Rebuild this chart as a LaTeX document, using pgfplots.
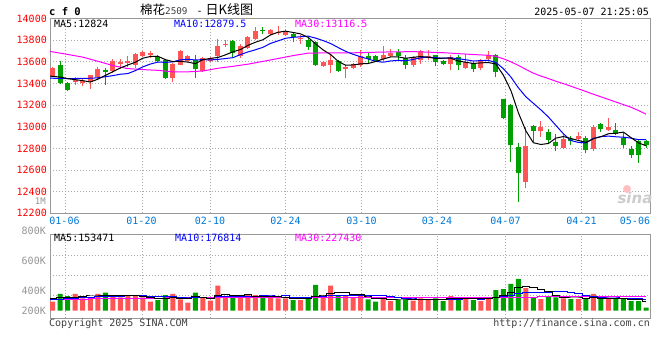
\documentclass[border=0pt]{standalone}
\usepackage{pgfplots}
\usepackage{pgfplotstable}
\pgfplotsset{compat=1.18}
\usepackage{fontspec}
\setmainfont{DejaVu Sans}
\newfontfamily\mono{DejaVu Sans Mono}
\newfontfamily\cjk{Noto Sans CJK SC}
\definecolor{cred}{RGB}{255,85,85}
\definecolor{cgreen}{RGB}{0,160,0}
\definecolor{framec}{RGB}{153,153,153}
\definecolor{gridc}{RGB}{170,170,170}
\definecolor{datec}{RGB}{0,120,215}
\definecolor{mag}{RGB}{255,0,255}
\definecolor{bl}{RGB}{0,0,255}
\definecolor{tgray}{RGB}{150,150,150}
\newcommand{\mf}{\mono\fontsize{10bp}{12bp}\selectfont}

\pgfplotstableread{
i o h l c
0 13468 13551 13459 13542
3 13413 13459 13382 13428
4 13407 13450 13373 13422
5 13413 13481 13352 13475
6 13459 13551 13444 13536
8 13511 13622 13499 13604
9 13576 13628 13536 13597
10 13588 13650 13551 13607
11 13567 13683 13542 13668
12 13653 13699 13643 13690
13 13665 13696 13634 13683
16 13450 13591 13413 13582
17 13573 13705 13567 13696
18 13604 13660 13597 13650
20 13511 13640 13505 13637
21 13604 13643 13597 13637
22 13650 13812 13597 13742
23 13751 13797 13736 13766
25 13653 13766 13634 13742
26 13727 13840 13720 13828
27 13813 13920 13800 13889
29 13859 13905 13850 13896
30 13862 13935 13843 13872
31 13843 13890 13838 13880
33 13806 13850 13766 13819
36 13561 13604 13555 13598
37 13567 13665 13499 13613
39 13530 13567 13450 13551
40 13542 13591 13536 13582
41 13567 13711 13551 13650
44 13622 13742 13610 13659
45 13653 13720 13643 13683
48 13567 13650 13555 13644
49 13613 13705 13576 13696
50 13637 13705 13613 13650
53 13576 13665 13521 13644
55 13542 13674 13536 13597
57 13542 13628 13521 13604
58 13622 13696 13610 13659
63 12491 13000 12436 12820
65 12958 13050 12906 12998
68 12805 12937 12790 12891
70 12884 12952 12870 12912
72 12792 13020 12780 12998
74 12968 13081 12960 12998
}\upT

\pgfplotstableread{
i o h l c
1 13567 13604 13392 13404
2 13404 13413 13327 13336
7 13520 13545 13389 13505
14 13643 13660 13597 13607
15 13619 13628 13444 13450
19 13613 13665 13450 13536
24 13788 13797 13643 13680
28 13895 13920 13859 13883
32 13859 13874 13782 13828
34 13803 13828 13705 13736
35 13782 13790 13560 13567
38 13604 13613 13505 13511
42 13650 13683 13582 13628
43 13650 13660 13597 13604
46 13690 13714 13613 13653
47 13634 13659 13530 13567
51 13659 13665 13561 13597
52 13604 13613 13570 13576
54 13644 13659 13521 13567
56 13591 13597 13505 13536
59 13659 13674 13459 13505
60 13253 13259 13069 13081
61 13198 13213 12676 12829
62 12808 12845 12307 12574
64 13004 13014 12860 12958
66 12952 12983 12845 12875
67 12860 12937 12774 12823
69 12891 12915 12830 12866
71 12900 12910 12753 12783
73 13023 13038 12952 12983
75 12968 13035 12922 12937
76 12900 12946 12799 12835
77 12798 12823 12712 12743
78 12869 12875 12667 12743
79 12869 12880 12805 12829
}\downT

\pgfplotstableread{
i v
0 150
3 258
4 197
5 210
6 258
8 243
9 210
10 229
11 229
12 210
13 150
16 258
17 182
18 136
20 210
21 164
22 374
23 206
25 206
26 243
27 243
29 210
30 197
31 197
33 173
36 210
37 374
39 229
40 210
41 229
44 197
45 159
48 164
49 197
50 173
53 229
55 210
57 159
58 210
63 341
65 187
68 197
70 187
72 258
74 187
}\volUp

\pgfplotstableread{
i v
1 258
2 229
7 276
14 173
15 243
19 276
24 229
28 210
32 173
34 210
35 384
38 229
42 182
43 150
46 182
47 182
51 197
52 159
54 206
56 173
59 313
60 327
61 398
62 468
64 210
66 229
67 210
69 187
71 187
73 187
75 187
76 187
77 159
78 159
79 66
}\volDown

\pgfplotsset{
  kbase/.style={
    scale only axis, width=600bp, anchor=south west,
    xmin=-0.36, xmax=79.53,
    scaled x ticks=false, scaled y ticks=false,
    axis line style={framec, line width=1bp},
    major tick length=0pt, tick style={draw=none},
    xtick={1.68,11.93,20.95,31.03,41.14,51.21,60.32,70.44},
    xticklabels={},
    grid=major,
    grid style={gridc, line width=0.8bp, dash pattern=on 1bp off 2bp},
  },
  wick/.style={draw=none, mark=none, forget plot,
    error bars/.cd, y dir=plus, y explicit, error mark=none,
    error bar style={solid, line width=1bp, draw=#1}},
  body/.style={draw=none, mark=none, forget plot,
    error bars/.cd, y dir=plus, y explicit, error mark=none,
    error bar style={solid, line width=5bp, draw=#1}},
}

\begin{document}
\begin{tikzpicture}
\fill[white] (0,0) rectangle (660bp,360bp);
\path[use as bounding box] (0,0) rectangle (660bp,360bp);

% ---------------- price panel ----------------
\begin{axis}[kbase, at={(50bp,146.7bp)}, height=194.8bp,
  ymin=12200, ymax=14000,
  ytick={12200,12400,12600,12800,13000,13200,13400,13600,13800,14000},
  yticklabels={12200,12400,12600,12800,13000,13200,13400,13600,13800,14000},
  yticklabel style={text=red, font=\mf, anchor=east, inner sep=0pt, xshift=-3bp},
]
\addplot[wick=cred] table[x=i, y=l, y error plus expr=\thisrow{h}-\thisrow{l}] {\upT};
\addplot[body=cred] table[x=i, y=o, y error plus expr=\thisrow{c}-\thisrow{o}] {\upT};
\addplot[wick=cgreen] table[x=i, y=l, y error plus expr=\thisrow{h}-\thisrow{l}] {\downT};
\addplot[body=cgreen] table[x=i, y=c, y error plus expr=\thisrow{o}-\thisrow{c}] {\downT};

% MA30
\addplot[mag, line width=1bp, mark=none] coordinates {
(-0.36,13696)(2,13668)(4,13643)(6,13605)(8,13565)(10,13537)(12,13528)(14,13521)
(16,13507)(18,13507)(20,13515)(22,13540)(24,13558)(26,13578)(28,13604)(30,13630)
(32,13657)(34,13680)(36,13682)(40,13683)(44,13690)(48,13694)(52,13684)(56,13667)
(58,13660)(59,13650)(60,13628)(61,13600)(62,13567)(63,13530)(64,13495)(65,13468)
(66,13445)(67,13420)(68,13398)(69,13374)(70,13350)(71,13325)(72,13300)(73,13276)
(74,13252)(75,13228)(76,13204)(77,13180)(78,13150)(79,13116)};
% MA10
\addplot[bl, line width=1bp, mark=none] coordinates {
(-0.36,13448)(0,13448)(1,13447)(2,13445)(3,13445)(4,13447)(5,13448)(6,13452)(7,13462)
(8,13472)(9,13485)(10,13491)(11,13518)(12,13553)(13,13579)(14,13597)(15,13595)
(16,13599)(17,13618)(18,13623)(19,13617)(20,13620)(21,13617)(22,13622)(23,13630)
(24,13638)(25,13667)(26,13691)(27,13711)(28,13734)(29,13770)(30,13793)(31,13817)
(32,13826)(33,13831)(34,13837)(35,13819)(36,13796)(37,13769)(38,13732)(39,13697)
(40,13669)(41,13646)(42,13626)(43,13604)(44,13596)(45,13608)(46,13613)(47,13609)
(48,13622)(49,13637)(50,13643)(51,13638)(52,13633)(53,13637)(54,13628)(55,13619)
(56,13607)(57,13611)(58,13613)(59,13594)(60,13537)(61,13460)(62,13360)(63,13277)
(64,13216)(65,13156)(66,13090)(67,13012)(68,12935)(69,12872)(70,12855)(71,12850)
(72,12892)(73,12909)(74,12913)(75,12907)(76,12903)(77,12895)(78,12880)(79,12880)};
% MA5
\addplot[black, line width=1bp, mark=none] coordinates {
(-0.36,13468)(0,13465)(1,13459)(2,13444)(3,13435)(4,13426)(5,13413)(6,13439)(7,13473)
(8,13508)(9,13543)(10,13570)(11,13596)(12,13633)(13,13649)(14,13651)(15,13620)
(16,13602)(17,13604)(18,13597)(19,13583)(20,13620)(21,13631)(22,13640)(23,13664)
(24,13692)(25,13713)(26,13752)(27,13781)(28,13804)(29,13848)(30,13873)(31,13883)
(32,13871)(33,13858)(34,13826)(35,13766)(36,13710)(37,13667)(38,13605)(39,13568)
(40,13571)(41,13581)(42,13584)(43,13603)(44,13625)(45,13645)(46,13645)(47,13633)
(48,13641)(49,13649)(50,13642)(51,13631)(52,13633)(53,13633)(54,13607)(55,13596)
(56,13584)(57,13590)(58,13593)(59,13580)(60,13477)(61,13336)(62,13130)(63,12962)
(64,12852)(65,12836)(66,12845)(67,12895)(68,12909)(69,12891)(70,12873)(71,12855)
(72,12890)(73,12908)(74,12935)(75,12940)(76,12950)(77,12899)(78,12851)(79,12824)};
\end{axis}

% ---------------- volume frame ----------------
\begin{axis}[kbase, at={(50bp,41.7bp)}, height=83.6bp,
  ymin=0, ymax=83.6, ytick={22.6,43,63.3}, yticklabels={}]
\end{axis}

% ---------------- volume data ----------------
\begin{axis}[scale only axis, width=600bp, anchor=south west, at={(50bp,49.3bp)}, height=76bp,
  xmin=-0.36, xmax=79.53, ymin=24, ymax=1088, hide axis]
\addplot[ybar, bar width=5bp, bar shift=0pt, fill=cred, draw=none] table[x=i, y=v] {\volUp};
\addplot[ybar, bar width=5bp, bar shift=0pt, fill=cgreen, draw=none] table[x=i, y=v] {\volDown};
% vol MA30
\addplot[mag, line width=1bp, mark=none, const plot mark mid] coordinates {
(-0.36,185)(10,195)(20,205)(30,212)(40,215)(50,210)(58,205)(60,208)(63,215)(66,222)(70,225)(75,226)(79,227)};
% vol MA10
\addplot[bl, line width=1bp, mark=none, const plot mark mid] coordinates {
(-0.36,180)(0,180)(1,182)(2,190)(3,200)(4,210)(5,215)(6,220)(7,222)(8,225)(9,229)(10,237)
(11,234)(12,232)(13,221)(14,219)(15,222)(16,222)(17,213)(18,202)(19,209)(20,207)(21,200)
(22,217)(23,222)(24,228)(25,224)(26,223)(27,229)(28,236)(29,230)(30,228)(31,232)(32,211)
(33,208)(34,206)(35,224)(36,221)(37,234)(38,236)(39,238)(40,239)(41,242)(42,243)(43,241)
(44,239)(45,217)(46,214)(47,195)(48,188)(49,185)(50,182)(51,178)(52,176)(53,184)(54,185)
(55,190)(56,189)(57,187)(58,191)(59,203)(60,218)(61,238)(62,269)(63,281)(64,281)(65,279)
(66,284)(67,289)(68,288)(69,275)(70,261)(71,240)(72,219)(73,204)(74,202)(75,202)(76,197)
(77,192)(78,189)(79,177)};
% vol MA5
\addplot[black, line width=1bp, mark=none, const plot mark mid] coordinates {
(-0.36,200)(0,200)(1,205)(2,210)(3,212)(4,218)(5,230)(6,230)(7,240)(8,237)(9,239)(10,243)
(11,237)(12,224)(13,206)(14,198)(15,201)(16,207)(17,201)(18,198)(19,219)(20,212)(21,194)
(22,232)(23,246)(24,237)(25,236)(26,252)(27,225)(28,226)(29,222)(30,221)(31,211)(32,197)
(33,190)(34,190)(35,227)(36,230)(37,270)(38,281)(39,285)(40,250)(41,254)(42,216)(43,200)
(44,194)(45,183)(46,174)(47,174)(48,177)(49,177)(50,180)(51,183)(52,178)(53,191)(54,193)
(55,200)(56,195)(57,195)(58,192)(59,213)(60,236)(61,281)(62,343)(63,369)(64,349)(65,321)
(66,287)(67,235)(68,207)(69,202)(70,202)(71,194)(72,203)(73,201)(74,201)(75,201)(76,201)
(77,181)(78,176)(79,153)};
\end{axis}

% ---------------- texts ----------------
\node[anchor=west, inner sep=0pt, font=\mono\bfseries\fontsize{10.5bp}{12bp}\selectfont] at (49bp,348.5bp) {c f 0};
\node[anchor=west, inner sep=0pt] at (140bp,350.5bp)
  {{\cjk\fontsize{12.5bp}{14bp}\selectfont 棉花}{\mono\fontsize{9.3bp}{12bp}\selectfont\color{darkgray}2509}\hspace{9bp}{\mono\fontsize{10bp}{12bp}\selectfont -}\hspace{3bp}{\cjk\fontsize{13bp}{14bp}\selectfont 日K线图}};
\node[anchor=east, inner sep=0pt, font=\mf] at (649bp,347.8bp) {2025-05-07 21:25:05};

\node[anchor=west, inner sep=0pt, font=\mf, text=black] at (54bp,336bp) {MA5:12824};
\node[anchor=west, inner sep=0pt, font=\mf, text=bl] at (174bp,336bp) {MA10:12879.5};
\node[anchor=west, inner sep=0pt, font=\mf, text=mag] at (295bp,336bp) {MA30:13116.5};

\foreach \xx/\lab in {64.5/01-06,141.5/01-20,210/02-10,285.5/02-24,361.5/03-10,437/03-24,505.5/04-07,581.5/04-21,635/05-06}
  \node[inner sep=0pt, font=\mf, text=datec] at (\xx bp,139.5bp) {\lab};

\node[anchor=east, inner sep=0pt, font=\mono\fontsize{9bp}{10bp}\selectfont, text=tgray] at (46bp,159bp) {1M};
\node[anchor=east, inner sep=0pt, font=\mf, text=tgray] at (46bp,129.3bp) {800K};
\node[anchor=east, inner sep=0pt, font=\mf, text=tgray] at (46bp,99.3bp) {600K};
\node[anchor=east, inner sep=0pt, font=\mf, text=tgray] at (46bp,69.3bp) {400K};
\node[anchor=east, inner sep=0pt, font=\mf, text=tgray] at (46bp,49.3bp) {200K};

\node[anchor=west, inner sep=0pt, font=\mf, text=black] at (54bp,121.7bp) {MA5:153471};
\node[anchor=west, inner sep=0pt, font=\mf, text=bl] at (175bp,121.7bp) {MA10:176814};
\node[anchor=west, inner sep=0pt, font=\mf, text=mag] at (295bp,121.7bp) {MA30:227430};

\node[anchor=west, inner sep=0pt, font=\mf, text=darkgray] at (49bp,36.3bp) {Copyright 2025 SINA.COM};
\node[anchor=east, inner sep=0pt, font=\mf, text=darkgray] at (650bp,36.3bp) {http://finance.sina.com.cn};

% sina watermark
\fill[red!25] (627bp,171bp) circle (4bp);
\node[inner sep=0pt, font=\bfseries\itshape\fontsize{15bp}{16bp}\selectfont, text=gray!40] at (635bp,162bp) {sina};
\end{tikzpicture}
\end{document}
